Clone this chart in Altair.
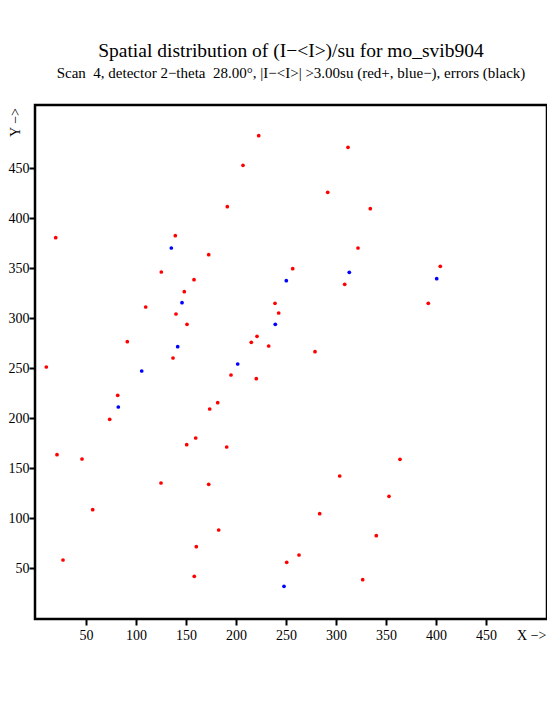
import altair as alt
import pandas as pd

# positive deviations (red) and negative deviations (blue), detector pixel coords
red_x = [19.7, 139.3, 172.7, 125.3, 158.0, 148.3, 109.7, 140.0, 151.0, 91.3, 137.0,
         222.7, 312.0, 207.0, 291.7, 191.3, 334.3, 322.0, 256.7, 308.7, 239.0, 242.7,
         221.0, 215.3, 232.7, 279.0, 404.3, 392.3,
         10.3, 81.7, 73.7, 159.7, 150.7, 21.0, 46.0, 125.0, 56.7, 160.3, 27.0, 158.3,
         195.0, 220.3, 181.7, 173.7, 190.7, 303.7, 172.7, 283.7, 340.3, 182.7, 263.0,
         250.7, 326.7, 364.0, 353.0]
red_y = [380.3, 382.3, 363.3, 346.0, 338.3, 326.3, 311.0, 304.0, 293.7, 276.3, 260.0,
         482.3, 470.7, 452.7, 425.7, 411.3, 409.3, 370.0, 349.3, 333.7, 314.7, 305.0,
         281.7, 275.7, 272.0, 266.3, 351.7, 314.7,
         251.0, 222.7, 198.7, 180.0, 173.3, 163.3, 159.0, 135.0, 108.3, 71.3, 58.0, 41.7,
         243.0, 239.3, 215.3, 209.0, 171.0, 142.0, 133.7, 104.3, 82.3, 88.0, 63.0,
         55.7, 38.3, 158.7, 121.7]
blue_x = [135.3, 146.0, 141.7, 313.3, 250.3, 239.3, 400.7, 105.7, 82.3, 201.7, 248.0]
blue_y = [370.0, 315.3, 271.3, 345.7, 337.3, 293.7, 339.3, 247.0, 211.0, 254.0, 31.7]

tick_values = [50, 100, 150, 200, 250, 300, 350, 400, 450]

df = pd.concat([
    pd.DataFrame({"x": red_x, "y": red_y, "sign": "+"}),
    pd.DataFrame({"x": blue_x, "y": blue_y, "sign": "−"}),
])

FONT = "Liberation Serif"

chart = alt.Chart(df).mark_circle(size=14, opacity=1).encode(
    x=alt.X("x:Q",
            scale=alt.Scale(domain=[-1, 511], nice=False, zero=False),
            axis=alt.Axis(values=tick_values, title="X −>", titleX=511, titleY=16,
                          titleAlign="right", titleBaseline="middle",
                          labelPadding=3)),
    y=alt.Y("y:Q",
            scale=alt.Scale(domain=[-1, 513], nice=False, zero=False),
            axis=alt.Axis(values=tick_values, title="Y −>", titleX=-20, titleY=17,
                          titleAlign="center", titleBaseline="middle", titleAngle=270,
                          labelPadding=0)),
    color=alt.Color("sign:N",
                    scale=alt.Scale(domain=["+", "−"], range=["#ff0000", "#0000ff"]),
                    legend=None),
).properties(
    width=512,
    height=514,
    autosize="none",
    padding={"left": 27, "top": 97, "right": 0, "bottom": 45},
    title=alt.TitleParams(
        text="Spatial distribution of (I−<I>)/su for mo_svib904",
        subtitle="Scan\u00a0 4, detector 2−theta\u00a0 28.00°, |I−<I>| >3.00su (red+, blue−), errors (black)",
        font=FONT, fontSize=19.5, fontWeight="normal", color="black",
        subtitleFont=FONT, subtitleFontSize=15, subtitleColor="black",
        anchor="middle", frame="group", offset=23, subtitlePadding=5,
    ),
).configure_view(
    stroke="black", strokeWidth=2.5,
).configure_axis(
    domain=False, grid=False, ticks=True, tickColor="black", tickWidth=2, tickSize=6,
    labelFont=FONT, labelFontSize=14, labelColor="black",
    titleFont=FONT, titleFontSize=14, titleFontWeight="normal", titleColor="black",
)

chart.save("out.html", embed_options={"renderer": "svg", "actions": False})
